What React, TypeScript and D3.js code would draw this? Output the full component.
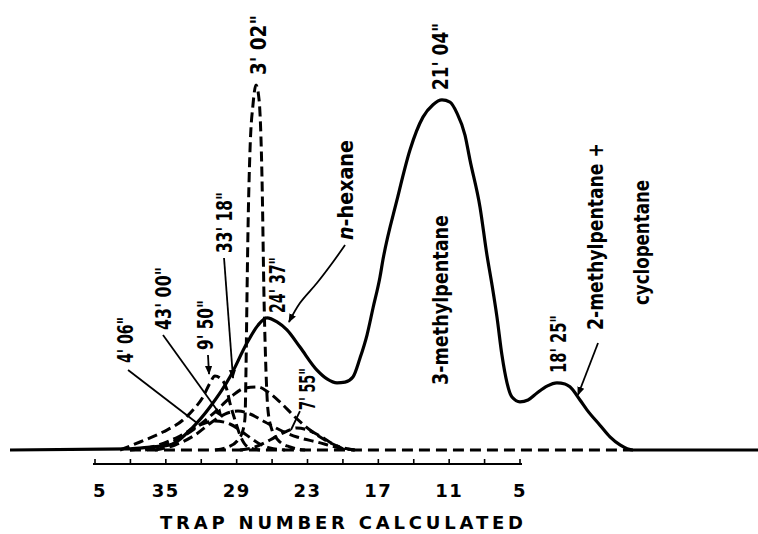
import React from "react";
import * as d3 from "d3";

const W = 758;
const H = 534;

// x = trap number (axis runs from 41 down to 5), y = detector signal (% of tallest peak)
const mainTrace: [number, number][] = [
  [48.2, 0], [38.04, 0.3], [36.34, 0.8], [34.65, 1.4], [32.7, 6.3], [31.26, 11.8],
  [29.57, 20.0], [28.13, 29.3], [27.19, 34.2], [26.43, 36.2], [25.58, 35.1],
  [24.74, 32.9], [23.64, 28.2], [22.2, 21.9], [21.35, 19.5], [20.5, 18.4],
  [19.82, 18.6], [19.15, 20.0], [18.55, 25.2], [17.96, 31.5], [17.45, 38.9],
  [16.86, 47.4], [16.61, 52.1], [15.42, 68.5], [14.32, 82.2], [13.22, 91.2],
  [12.37, 94.6], [11.61, 95.9], [10.93, 95.3], [10.34, 92.3], [9.66, 86.3],
  [9.24, 79.5], [8.39, 66.6], [7.8, 53.4], [7.37, 45.2], [6.95, 36.4], [6.53, 26.0],
  [6.1, 18.4], [5.68, 14.5], [5.0, 13.2], [4.32, 13.7], [3.56, 15.6], [2.71, 17.5],
  [1.87, 18.4], [1.19, 18.1], [0.77, 17.3], [-0.08, 13.7], [-0.67, 11.0],
  [-1.77, 6.8], [-2.62, 3.6], [-3.47, 1.4], [-4.57, 0], [-15.16, 0],
];

const peak302: [number, number][] = [
  [30.84, 0], [29.73, 0.82], [28.89, 2.74], [28.46, 5.48], [28.29, 9.04], [28.21, 21.92],
  [28.13, 41.1], [28.04, 60.27], [27.87, 82.19], [27.62, 94.52], [27.36, 100],
  [27.1, 95.89], [26.85, 73.97], [26.68, 41.1], [26.52, 21.92], [26.35, 10.96],
  [26.01, 5.48], [25.5, 2.74], [24.48, 0.82], [23.21, 0],
];

const peak950: [number, number][] = [
  [38.88, 0], [37.19, 2.19], [35.24, 4.93], [33.55, 8.22], [32.7, 10.96], [31.85, 14.52],
  [31.26, 18.36], [30.84, 20.27], [30.41, 19.73], [29.82, 16.44], [29.57, 12.88],
  [29.14, 8.22], [28.72, 4.11], [28.04, 0.82], [27.02, 0],
];

const peak3318: [number, number][] = [
  [36.76, 0], [35.07, 1.37], [32.95, 4.93], [30.84, 10.41], [29.4, 14.79], [28.29, 16.99],
  [27.19, 17.26], [26.35, 15.89], [25.33, 13.15], [24.06, 9.04], [22.79, 5.48],
  [21.52, 2.74], [20.25, 0.82], [18.98, 0],
];

const peak4300: [number, number][] = [
  [35.92, 0], [34.22, 1.37], [32.53, 4.11], [31.09, 7.67], [29.99, 9.86], [28.89, 10.68],
  [27.87, 9.86], [26.6, 7.67], [25.33, 5.48], [23.89, 3.56], [22.2, 2.19], [20.25, 0.55],
  [18.98, 0],
];

const peak406: [number, number][] = [
  [38.04, 0], [35.92, 1.1], [33.8, 3.84], [32.11, 6.85], [30.84, 7.95], [29.57, 7.12],
  [28.29, 4.38], [27.19, 1.92], [26.18, 0.55], [24.91, 0],
];

const peak755: [number, number][] = [
  [28.72, 0], [27.45, 0.82], [26.18, 2.74], [24.91, 4.93], [23.89, 6.03], [22.96, 5.48],
  [21.94, 3.84], [20.84, 1.64], [19.82, 0],
];

const dashedBaseline: [number, number][] = [[38.04, 0], [-4.57, 0]];

const axisTicks = [41, 38, 35, 32, 29, 26, 23, 20, 17, 14, 11, 8, 5];
const labelTicks = [41, 35, 29, 23, 17, 11, 5];
const tickLabels = ["5", "35", "29", "23", "17", "11", "5"];
const axisTitle = "TRAP NUMBER CALCULATED";

// annotation texts anchored (bottom end) at [trap, signal]
const labelTexts = [
  `4' 06"`, `43' 00"`, `9' 50"`, `33' 18"`, `3' 02"`, `24' 37"`, "n-hexane",
  `7' 55"`, `21' 04"`, "3-methylpentane", `18' 25"`, "2-methylpentane +", "cyclopentane",
];
const labelAnchors: [number, number][] = [
  [38.46, 23.84], [35.24, 32.88], [31.68, 27.4], [30.07, 53.97], [27.19, 102.74],
  [25.58, 37.53], [19.82, 57.53], [23.04, 10.96], [11.78, 98.63], [11.78, 17.81],
  [1.78, 21.1], [-1.35, 32.88], [-5.25, 39.73],
];
const labelLengths = [46, 63, 50, 61, 60, 56, 100, 42, 67, 170, 58, 187, 125];

// leader lines [trap, signal] point lists
const leaders: { pts: [number, number][]; arrow: boolean }[] = [
  { pts: [[38.2, 21.92], [32.36, 7.4]], arrow: false },
  { pts: [[35.24, 31.51], [30.24, 9.04]], arrow: true },
  { pts: [[31.43, 26.03], [31.34, 20.82]], arrow: true },
  { pts: [[30.07, 52.6], [29.31, 19.73]], arrow: true },
  { pts: [[19.82, 56.16], [20.84, 51.51], [22.2, 45.75], [23.64, 40.27], [24.57, 35.07]], arrow: true },
  { pts: [[23.64, 10.68], [24.4, 5.48]], arrow: false },
  { pts: [[-1.61, 29.32], [0.09, 15.07]], arrow: true },
];

export default function App() {
  const x = d3.scaleLinear().domain([41, 5]).range([95, 520]);
  const y = d3.scaleLinear().domain([0, 100]).range([450, 85]);

  const line = d3
    .line<[number, number]>()
    .x((d) => x(d[0]))
    .y((d) => y(d[1]))
    .curve(d3.curveMonotoneX);
  const straight = d3
    .line<[number, number]>()
    .x((d) => x(d[0]))
    .y((d) => y(d[1]))
    .curve(d3.curveCatmullRom);

  const dashed = [peak406, peak4300, peak950, peak3318, peak302, peak755];
  const axisY = 464;
  const labelFont = "'Liberation Sans Narrow', 'DejaVu Sans Condensed', 'Roboto Condensed', 'Liberation Sans', sans-serif";
  const fs = 21;

  return (
    <svg
      width={W}
      height={H}
      viewBox={`0 0 ${W} ${H}`}
      style={{ position: "absolute", left: 0, top: 0, background: "#fff" }}
    >
      <defs>
        <marker id="arr" viewBox="0 0 10 10" refX="9" refY="5" markerWidth="5" markerHeight="5" orient="auto">
          <path d="M0,1 L10,5 L0,9 Z" fill="#000" />
        </marker>
      </defs>
      <rect width={W} height={H} fill="#fff" />

      {/* dashed component peaks */}
      <path d={line(dashedBaseline) || ""} fill="none" stroke="#000" strokeWidth={3} strokeDasharray="11,6" />
      {dashed.map((p, i) => (
        <path key={i} d={line(p) || ""} fill="none" stroke="#000" strokeWidth={3} strokeDasharray="10,5" />
      ))}

      {/* main chromatogram */}
      <path d={line(mainTrace) || ""} fill="none" stroke="#000" strokeWidth={3.2} strokeLinejoin="round" />

      {/* leaders */}
      {leaders.map((l, i) => (
        <path
          key={i}
          d={straight(l.pts) || ""}
          fill="none"
          stroke="#000"
          strokeWidth={1.8}
          markerEnd={l.arrow ? "url(#arr)" : undefined}
        />
      ))}

      {/* labels */}
      {labelTexts.map((t, i) => {
        const [tx, ty] = labelAnchors[i];
        return (
          <text
            key={i}
            transform={`translate(${x(tx)},${y(ty)}) rotate(-90)`}
            y={fs * 0.36}
            fontFamily={labelFont}
            fontWeight="bold"
            fontSize={fs}
            textLength={labelLengths[i]}
            lengthAdjust="spacingAndGlyphs"
            fill="#000"
          >
            {t === "n-hexane" ? (
              <>
                <tspan fontStyle="italic">n</tspan>-hexane
              </>
            ) : (
              t
            )}
          </text>
        );
      })}

      {/* axis */}
      <line x1={x(41) - 2} x2={x(5) + 2} y1={axisY} y2={axisY} stroke="#000" strokeWidth={2} />
      {axisTicks.map((t) => (
        <line key={t} x1={x(t)} x2={x(t)} y1={axisY} y2={axisY - 5} stroke="#000" strokeWidth={1.6} />
      ))}
      {labelTicks.map((t, i) => (
        <text
          key={i}
          x={x(t) + (i === 0 ? 5 : 0)}
          y={497}
          textAnchor="middle"
          fontFamily="'DejaVu Sans', sans-serif"
          fontWeight="bold"
          fontSize={18}
          letterSpacing={1.5}
          fill="#000"
        >
          {tickLabels[i]}
        </text>
      ))}
      <text
        x={160}
        y={529}
        fontFamily="'DejaVu Sans', sans-serif"
        fontWeight="bold"
        fontSize={18}
        textLength={363}
        lengthAdjust="spacing"
        fill="#000"
      >
        {axisTitle}
      </text>
    </svg>
  );
}
